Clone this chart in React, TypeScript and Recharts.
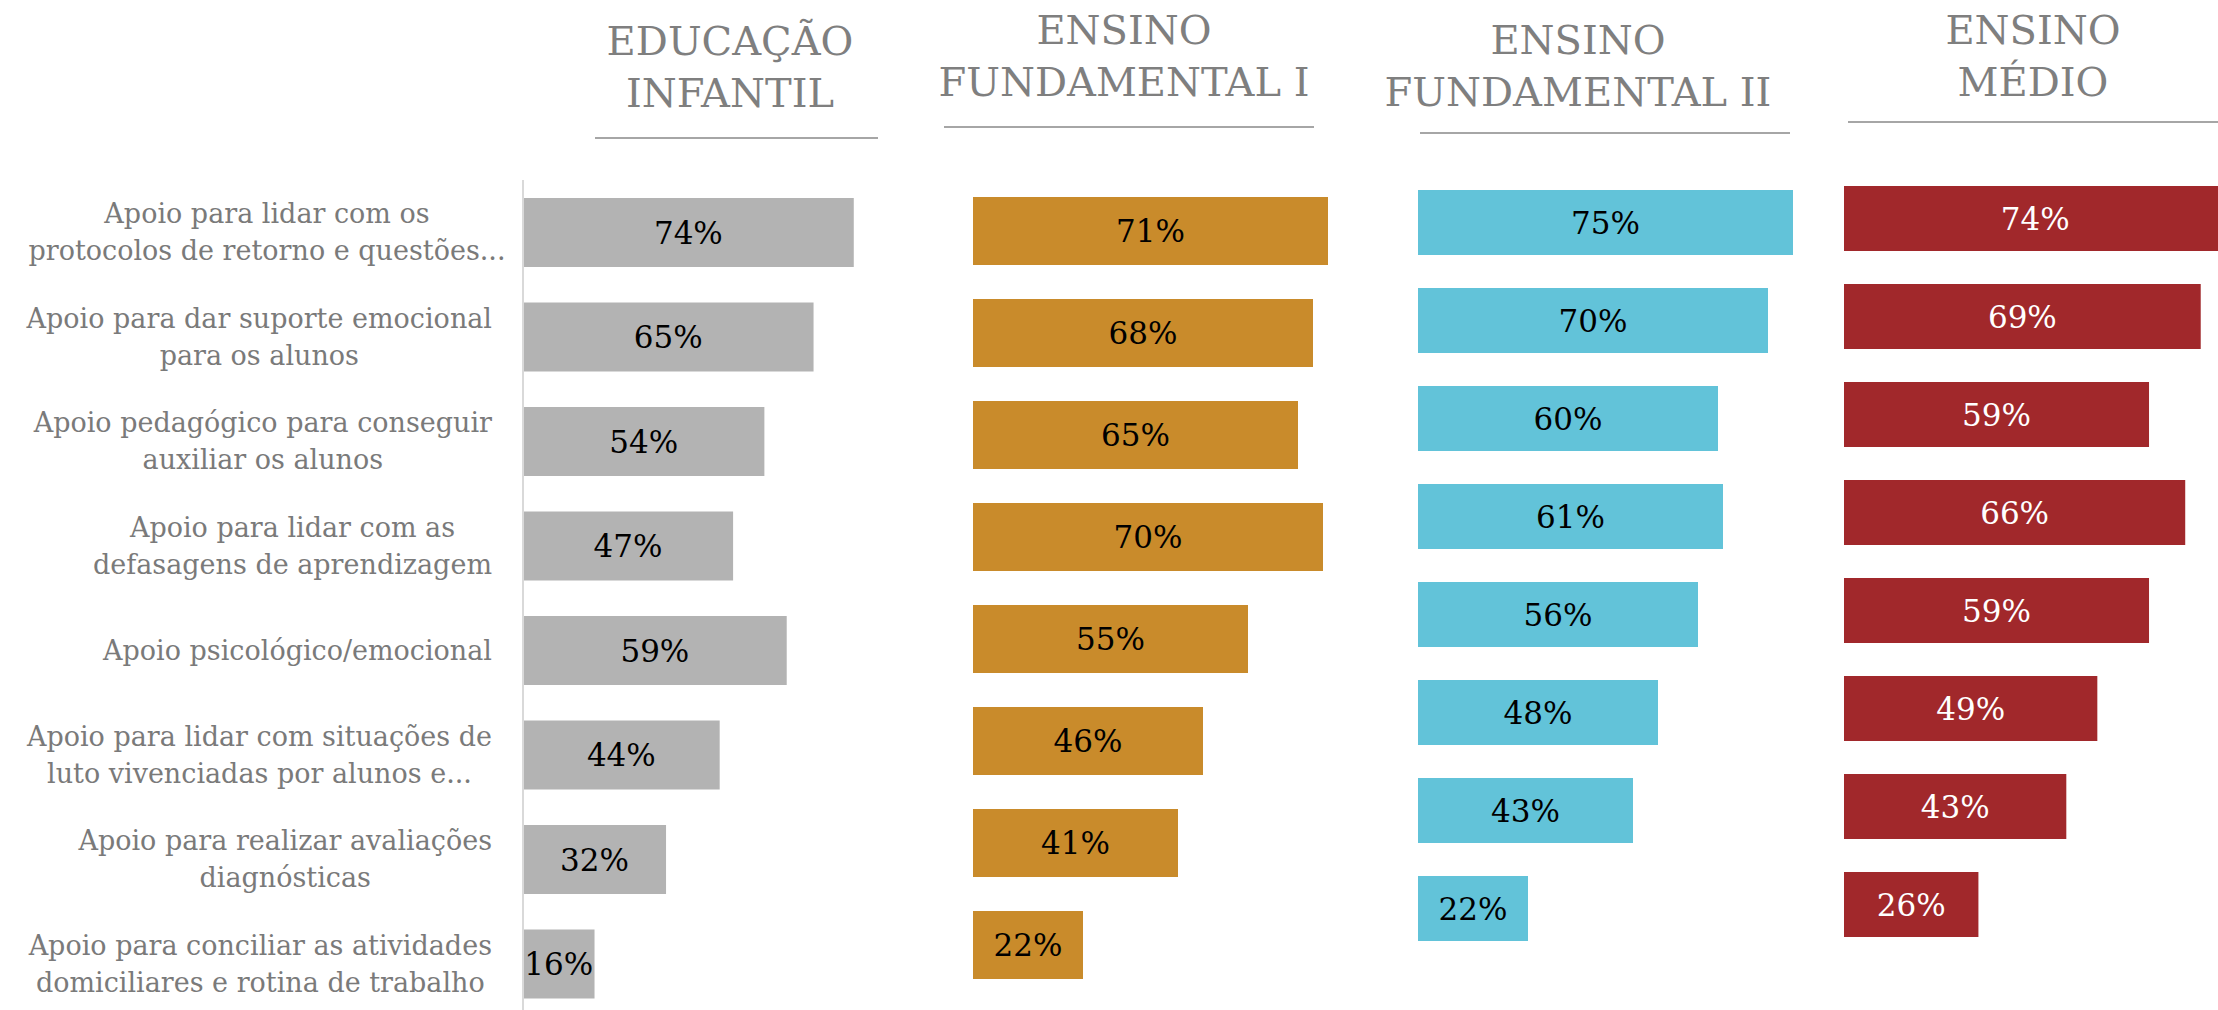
import { BarChart, Bar, XAxis, YAxis, LabelList } from 'recharts';

// Needs reported per school level (%), same row order in every panel
const categories = [
  'Apoio para lidar com os\nprotocolos de retorno e questões...',
  'Apoio para dar suporte emocional\npara os alunos',
  'Apoio pedagógico para conseguir\nauxiliar os alunos',
  'Apoio para lidar com as\ndefasagens de aprendizagem',
  'Apoio psicológico/emocional',
  'Apoio para lidar com situações de\nluto vivenciadas por alunos e...',
  'Apoio para realizar avaliações\ndiagnósticas',
  'Apoio para conciliar as atividades\ndomiciliares e rotina de trabalho',
];

const infantil = [74, 65, 54, 47, 59, 44, 32, 16];
const fundamental1 = [71, 68, 65, 70, 55, 46, 41, 22];
const fundamental2 = [75, 70, 60, 61, 56, 48, 43, 22];
const medio = [74, 69, 59, 66, 59, 49, 43, 26];

const panelTitles = [
  ['EDUCAÇÃO', 'INFANTIL'],
  ['ENSINO', 'FUNDAMENTAL I'],
  ['ENSINO', 'FUNDAMENTAL II'],
  ['ENSINO', 'MÉDIO'],
];

const FONT = '"DejaVu Serif", Georgia, serif';
const LABEL_SIZE = 27;
const LINE_H = 37;
const LABEL_BOX = 470;

// Panel geometry: plot left edge, px per percent, plot top, plot height, bar thickness
const panels = [
  { values: infantil, color: '#b3b3b3', text: '#000', left: 523, scale: 4.47, top: 180, plotH: 836, barSize: 69, titleX: 730, titleTop: 15, rule: [595, 878, 138] },
  { values: fundamental1, color: '#c98b2b', text: '#000', left: 973, scale: 5.0, top: 180, plotH: 816, barSize: 68, titleX: 1124, titleTop: 4, rule: [944, 1314, 127] },
  { values: fundamental2, color: '#62c3d9', text: '#000', left: 1418, scale: 5.0, top: 173, plotH: 784, barSize: 65, titleX: 1578, titleTop: 14, rule: [1420, 1790, 133] },
  { values: medio, color: '#a1282b', text: '#fff', left: 1844, scale: 5.17, top: 169, plotH: 784, barSize: 65, titleX: 2033, titleTop: 4, rule: [1848, 2230, 122] },
];

let ctx: CanvasRenderingContext2D | null = null;
function textWidth(s: string) {
  if (!ctx) ctx = document.createElement('canvas').getContext('2d');
  if (!ctx) return s.length * LABEL_SIZE * 0.55;
  ctx.font = `${LABEL_SIZE}px ${FONT}`;
  return ctx.measureText(s).width;
}

// Multi-line category label, lines centred on each other, block right-aligned
const CategoryTick = ({ x, y, payload }: any) => {
  const lines = String(payload.value).split('\n');
  const right = x - 31;
  const maxW = Math.max(...lines.map(textWidth));
  // a truncated line wider than the label box spills past its right edge
  const cx = maxW > LABEL_BOX ? right - LABEL_BOX / 2 + 10 : right - maxW / 2;
  return (
    <text fontFamily={FONT} fontSize={LABEL_SIZE} fill="#7a7a7a" textAnchor="middle">
      {lines.map((l, i) => (
        <tspan key={i} x={cx} y={y + (i - (lines.length - 1) / 2) * LINE_H} dy="0.35em">
          {l}
        </tspan>
      ))}
    </text>
  );
};

export default function App() {
  return (
    <div style={{ position: 'absolute', left: 0, top: 0, width: 2218, height: 1010, overflow: 'hidden', background: '#fff' }}>
      {panels.map((p, idx) => {
        const data = categories.map((c, i) => ({ cat: c, value: p.values[i] }));
        const first = idx === 0;
        const plotW = p.scale * 100;
        const yW = first ? p.left : 0;
        const chartLeft = first ? 0 : p.left;
        return (
          <div key={idx}>
            <div
              style={{
                position: 'absolute',
                left: p.titleX - 250,
                top: p.titleTop,
                width: 500,
                textAlign: 'center',
                fontFamily: FONT,
                fontSize: 40,
                lineHeight: '52px',
                color: '#7f7f7f',
              }}
            >
              {panelTitles[idx].map((t, i) => (
                <div key={i}>{t}</div>
              ))}
            </div>
            <div
              style={{
                position: 'absolute',
                left: p.rule[0],
                top: p.rule[2] - 1,
                width: p.rule[1] - p.rule[0],
                height: 2,
                background: '#a6a6a6',
              }}
            />
            <div style={{ position: 'absolute', left: chartLeft, top: 0 }}>
              <BarChart
                layout="vertical"
                width={yW + plotW + 10}
                height={p.top + p.plotH + 4}
                data={data}
                margin={{ top: p.top, right: 10, bottom: 4, left: 0 }}
              >
                <XAxis type="number" domain={[0, 100]} hide />
                <YAxis
                  type="category"
                  dataKey="cat"
                  width={yW}
                  hide={!first}
                  tick={<CategoryTick />}
                  tickLine={false}
                  tickSize={0}
                  tickMargin={0}
                  axisLine={{ stroke: '#d9d9d9', strokeWidth: 2 }}
                  interval={0}
                />
                <Bar dataKey="value" fill={p.color} barSize={p.barSize} isAnimationActive={false}>
                  <LabelList
                    dataKey="value"
                    position="center"
                    formatter={(v: any) => `${v}%`}
                    fill={p.text}
                    fontFamily={FONT}
                    fontSize={31}
                  />
                </Bar>
              </BarChart>
            </div>
          </div>
        );
      })}
    </div>
  );
}
